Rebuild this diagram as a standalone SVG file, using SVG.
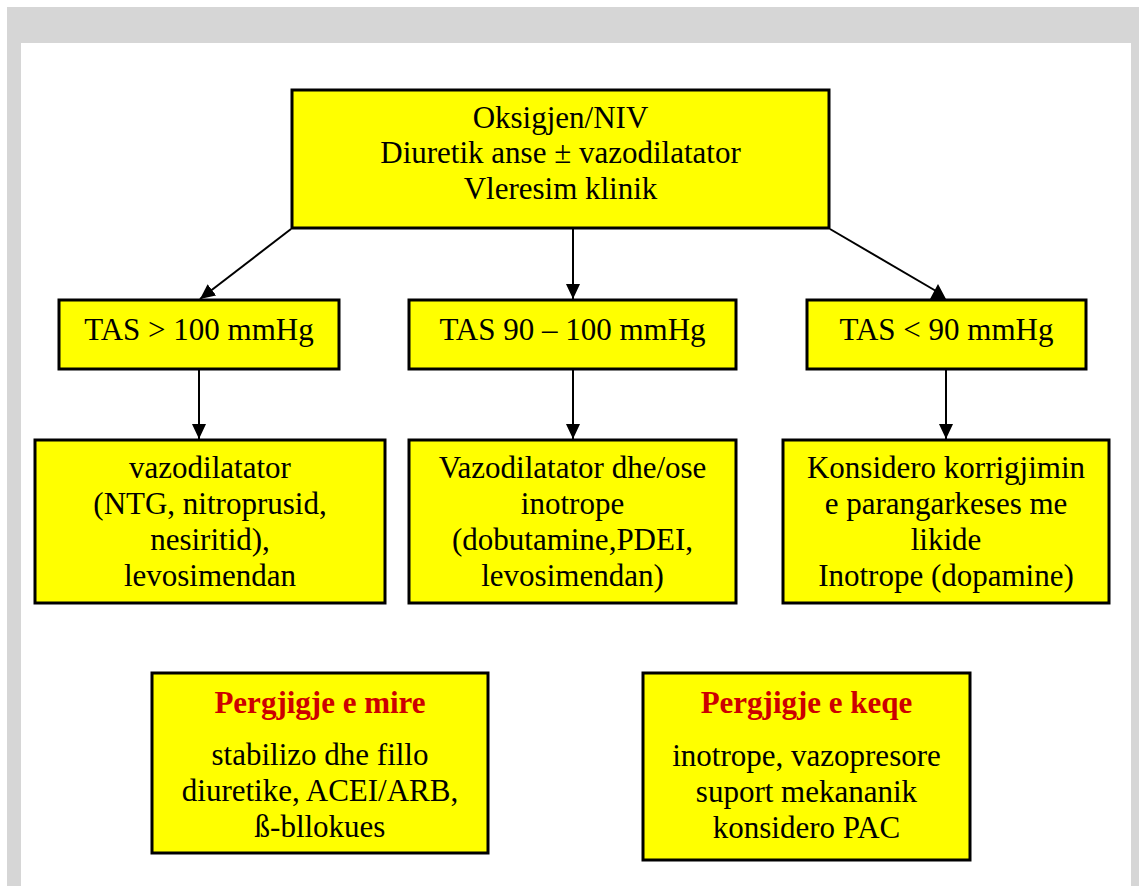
<svg xmlns="http://www.w3.org/2000/svg" width="1139" height="886" viewBox="0 0 1139 886">
<style>
.box{fill:#ffff00;stroke:#000;stroke-width:3}
.t{font-family:"Liberation Serif","Times New Roman",serif;font-size:31px;fill:#000;text-anchor:middle}
.h{font-family:"Liberation Serif","Times New Roman",serif;font-size:31px;font-weight:bold;fill:#cc0000;text-anchor:middle}
.ln{stroke:#000;stroke-width:2;fill:none}
</style>
<defs>
<marker id="ah" markerUnits="userSpaceOnUse" markerWidth="15" markerHeight="14" refX="15" refY="7" orient="auto">
<path d="M0,0 L15,7 L0,14 z" fill="#000"/>
</marker>
</defs>
<rect x="0" y="0" width="1139" height="886" fill="#fff"/>
<rect x="7" y="7" width="1132" height="879" fill="#d6d6d6"/>
<rect x="21" y="43" width="1110" height="843" fill="#fff"/>
<g id="connectors">
<line class="ln" x1="291" y1="229" x2="200" y2="299" marker-end="url(#ah)"/>
<line class="ln" x1="573" y1="229" x2="573" y2="299" marker-end="url(#ah)"/>
<line class="ln" x1="830" y1="229" x2="936" y2="291"/>
<polygon points="938,284 930,299 946,299" fill="#000"/>
<line class="ln" x1="199" y1="370" x2="199" y2="439" marker-end="url(#ah)"/>
<line class="ln" x1="573" y1="370" x2="573" y2="439" marker-end="url(#ah)"/>
<line class="ln" x1="946" y1="370" x2="946" y2="439" marker-end="url(#ah)"/>
</g>
<g id="n-top">
<rect class="box" x="292" y="90" width="537" height="138"/>
<text class="t" x="560.5" y="128">Oksigjen/NIV</text>
<text class="t" x="560.5" y="163">Diuretik anse ± vazodilatator</text>
<text class="t" x="560.5" y="199">Vleresim klinik</text>
</g>
<g id="n-tas1">
<rect class="box" x="59" y="300" width="280" height="69"/>
<text class="t" x="199" y="340">TAS &gt; 100 mmHg</text>
</g>
<g id="n-tas2">
<rect class="box" x="409" y="300" width="327" height="69"/>
<text class="t" x="572.5" y="340">TAS 90 – 100 mmHg</text>
</g>
<g id="n-tas3">
<rect class="box" x="807" y="300" width="279" height="69"/>
<text class="t" x="946.5" y="340">TAS &lt; 90 mmHg</text>
</g>
<g id="n-b1">
<rect class="box" x="35" y="440" width="350" height="163"/>
<text class="t" x="210" y="478">vazodilatator</text>
<text class="t" x="210" y="514">(NTG, nitroprusid,</text>
<text class="t" x="210" y="550">nesiritid),</text>
<text class="t" x="210" y="586">levosimendan</text>
</g>
<g id="n-b2">
<rect class="box" x="409" y="440" width="327" height="163"/>
<text class="t" x="572.5" y="478">Vazodilatator dhe/ose</text>
<text class="t" x="572.5" y="514">inotrope</text>
<text class="t" x="572.5" y="550">(dobutamine,PDEI,</text>
<text class="t" x="572.5" y="586">levosimendan)</text>
</g>
<g id="n-b3">
<rect class="box" x="783" y="440" width="326" height="163"/>
<text class="t" x="946" y="478">Konsidero korrigjimin</text>
<text class="t" x="946" y="514">e parangarkeses me</text>
<text class="t" x="946" y="550">likide</text>
<text class="t" x="946" y="586">Inotrope (dopamine)</text>
</g>
<g id="n-good">
<rect class="box" x="152" y="673" width="336" height="180"/>
<text class="h" x="320" y="713">Pergjigje e mire</text>
<text class="t" x="320" y="765">stabilizo dhe fillo</text>
<text class="t" x="320" y="801">diuretike, ACEI/ARB,</text>
<text class="t" x="320" y="837">ß-bllokues</text>
</g>
<g id="n-bad">
<rect class="box" x="643" y="673" width="327" height="187"/>
<text class="h" x="806.5" y="713">Pergjigje e keqe</text>
<text class="t" x="806.5" y="766">inotrope, vazopresore</text>
<text class="t" x="806.5" y="802">suport mekananik</text>
<text class="t" x="806.5" y="838">konsidero PAC</text>
</g>
</svg>
